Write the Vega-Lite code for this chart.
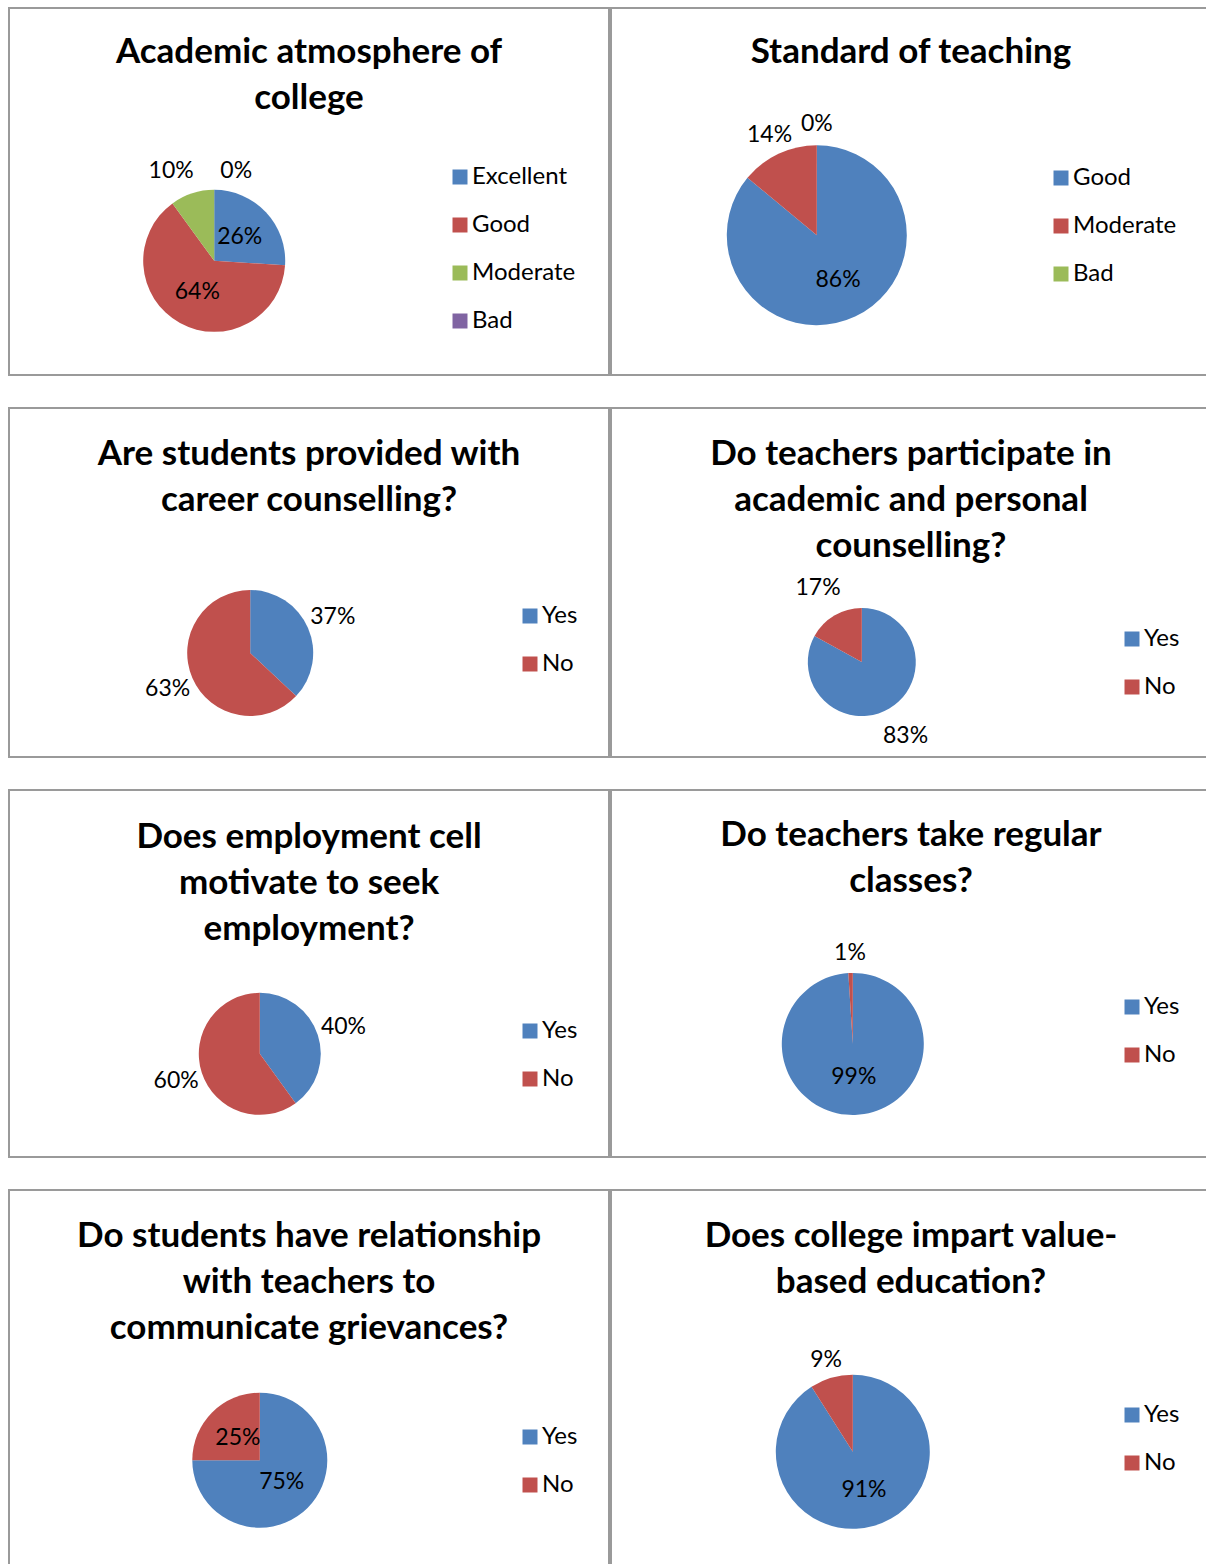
{
  "$schema": "https://vega.github.io/schema/vega-lite/v6.json",
  "background": "white",
  "padding": {"left": 8, "top": 7, "right": 0, "bottom": 0},
  "config": {
    "font": "Lato",
    "view": {"stroke": "#9a9a9a", "strokeWidth": 2},
    "title": {"font": "Lato", "fontSize": 35, "fontWeight": "bold", "color": "black", "anchor": "middle", "frame": "group", "baseline": "top", "lineHeight": 46},
    "legend": {"orient": "none", "title": null, "symbolType": "square", "symbolSize": 225, "symbolStrokeWidth": 0, "labelFont": "Lato", "labelFontSize": 24, "labelColor": "black", "labelOffset": 0, "rowPadding": 24, "symbolOpacity": 1},
    "text": {"font": "Lato", "fontSize": 23, "color": "black"},
    "arc": {"stroke": null}
  },
  "vconcat": [
    {
      "hconcat": [
        {
          "width": 600, "height": 367,
          "title": {"text": ["Academic atmosphere of", "college"], "offset": -108},
          "data": {"values": [
            {"cat": "Excellent", "value": 26, "label": "26%", "o": 1, "pos": "in"},
            {"cat": "Good", "value": 64, "label": "64%", "o": 2, "pos": "in"},
            {"cat": "Moderate", "value": 10, "label": "10%", "o": 3, "pos": "outL"},
            {"cat": "Bad", "value": 0, "label": "0%", "o": 4, "pos": "outR"}
          ]},
          "encoding": {
            "theta": {"field": "value", "type": "quantitative", "stack": true},
            "order": {"field": "o", "type": "quantitative"},
            "x": {"datum": 0.342, "type": "quantitative", "scale": {"domain": [0, 1]}, "axis": null},
            "y": {"datum": 0.689, "type": "quantitative", "scale": {"domain": [0, 1], "reverse": true}, "axis": null}
          },
          "layer": [
            {"mark": {"type": "arc", "outerRadius": 71},
             "encoding": {"color": {"field": "cat", "type": "nominal", "sort": ["Excellent", "Good", "Moderate", "Bad"], "scale": {"domain": ["Excellent", "Good", "Moderate", "Bad"], "range": ["#4F81BD", "#C0504D", "#9BBB59", "#8064A2"]}, "legend": {"legendX": 439, "legendY": 157}}}},
            {"mark": {"type": "text"},
             "encoding": {"text": {"condition": {"test": "datum.pos === 'in'", "field": "label"}, "value": ""}, "radius": {"value": 35}}},
            {"mark": {"type": "text", "dx": -14},
             "encoding": {"text": {"condition": {"test": "datum.pos === 'outL'", "field": "label"}, "value": ""}, "radius": {"value": 94}}},
            {"mark": {"type": "text", "dx": 22},
             "encoding": {"text": {"condition": {"test": "datum.pos === 'outR'", "field": "label"}, "value": ""}, "radius": {"value": 90}}}
          ]
        },
        {
          "width": 600, "height": 367,
          "title": {"text": ["Standard of teaching"], "offset": -62},
          "data": {"values": [
            {"cat": "Good", "value": 86, "label": "86%", "o": 1, "pos": "in"},
            {"cat": "Moderate", "value": 14, "label": "14%", "o": 2, "pos": "out"},
            {"cat": "Bad", "value": 0, "label": "0%", "o": 3, "pos": "out"}
          ]},
          "encoding": {
            "theta": {"field": "value", "type": "quantitative", "stack": true},
            "order": {"field": "o", "type": "quantitative"},
            "x": {"datum": 0.343, "type": "quantitative", "scale": {"domain": [0, 1]}, "axis": null},
            "y": {"datum": 0.619, "type": "quantitative", "scale": {"domain": [0, 1], "reverse": true}, "axis": null}
          },
          "layer": [
            {"mark": {"type": "arc", "outerRadius": 90},
             "encoding": {"color": {"field": "cat", "type": "nominal", "sort": ["Good", "Moderate", "Bad"], "scale": {"domain": ["Good", "Moderate", "Bad"], "range": ["#4F81BD", "#C0504D", "#9BBB59"]}, "legend": {"legendX": 438, "legendY": 158}}}},
            {"mark": {"type": "text"},
             "encoding": {"text": {"condition": {"test": "datum.pos === 'in'", "field": "label"}, "value": ""}, "radius": {"value": 50}}},
            {"mark": {"type": "text"},
             "encoding": {"text": {"condition": {"test": "datum.pos === 'out'", "field": "label"}, "value": ""}, "radius": {"value": 111}}}
          ]
        }
      ],
      "spacing": 0,
      "resolve": {"scale": {"color": "independent", "x": "independent", "y": "independent", "theta": "independent"}, "legend": {"color": "independent"}}
    },
    {
      "hconcat": [
        {
          "width": 600, "height": 349,
          "title": {"text": ["Are students provided with", "career counselling?"], "offset": -110},
          "data": {"values": [
            {"cat": "Yes", "value": 37, "label": "37%", "o": 1, "pos": "out"},
            {"cat": "No", "value": 63, "label": "63%", "o": 2, "pos": "out"}
          ]},
          "encoding": {
            "theta": {"field": "value", "type": "quantitative", "stack": true},
            "order": {"field": "o", "type": "quantitative"},
            "x": {"datum": 0.402, "type": "quantitative", "scale": {"domain": [0, 1]}, "axis": null},
            "y": {"datum": 0.702, "type": "quantitative", "scale": {"domain": [0, 1], "reverse": true}, "axis": null}
          },
          "layer": [
            {"mark": {"type": "arc", "outerRadius": 63},
             "encoding": {"color": {"field": "cat", "type": "nominal", "sort": ["Yes", "No"], "scale": {"domain": ["Yes", "No"], "range": ["#4F81BD", "#C0504D"]}, "legend": {"legendX": 509, "legendY": 196}}}},
            {"mark": {"type": "text"},
             "encoding": {"text": {"field": "label"}, "radius": {"value": 90}}}
          ]
        },
        {
          "width": 600, "height": 349,
          "title": {"text": ["Do teachers participate in", "academic and personal", "counselling?"], "offset": -156},
          "data": {"values": [
            {"cat": "Yes", "value": 83, "label": "83%", "o": 1, "pos": "out"},
            {"cat": "No", "value": 17, "label": "17%", "o": 2, "pos": "out"}
          ]},
          "encoding": {
            "theta": {"field": "value", "type": "quantitative", "stack": true},
            "order": {"field": "o", "type": "quantitative"},
            "x": {"datum": 0.418, "type": "quantitative", "scale": {"domain": [0, 1]}, "axis": null},
            "y": {"datum": 0.728, "type": "quantitative", "scale": {"domain": [0, 1], "reverse": true}, "axis": null}
          },
          "layer": [
            {"mark": {"type": "arc", "outerRadius": 54},
             "encoding": {"color": {"field": "cat", "type": "nominal", "sort": ["Yes", "No"], "scale": {"domain": ["Yes", "No"], "range": ["#4F81BD", "#C0504D"]}, "legend": {"legendX": 509, "legendY": 219}}}},
            {"mark": {"type": "text"},
             "encoding": {"text": {"field": "label"}, "radius": {"value": 86}}}
          ]
        }
      ],
      "spacing": 0,
      "resolve": {"scale": {"color": "independent", "x": "independent", "y": "independent", "theta": "independent"}, "legend": {"color": "independent"}}
    },
    {
      "hconcat": [
        {
          "width": 600, "height": 367,
          "title": {"text": ["Does employment cell", "motivate to seek", "employment?"], "offset": -157},
          "data": {"values": [
            {"cat": "Yes", "value": 40, "label": "40%", "o": 1, "pos": "out"},
            {"cat": "No", "value": 60, "label": "60%", "o": 2, "pos": "out"}
          ]},
          "encoding": {
            "theta": {"field": "value", "type": "quantitative", "stack": true},
            "order": {"field": "o", "type": "quantitative"},
            "x": {"datum": 0.418, "type": "quantitative", "scale": {"domain": [0, 1]}, "axis": null},
            "y": {"datum": 0.719, "type": "quantitative", "scale": {"domain": [0, 1], "reverse": true}, "axis": null}
          },
          "layer": [
            {"mark": {"type": "arc", "outerRadius": 61},
             "encoding": {"color": {"field": "cat", "type": "nominal", "sort": ["Yes", "No"], "scale": {"domain": ["Yes", "No"], "range": ["#4F81BD", "#C0504D"]}, "legend": {"legendX": 509, "legendY": 229}}}},
            {"mark": {"type": "text"},
             "encoding": {"text": {"field": "label"}, "radius": {"value": 88}}}
          ]
        },
        {
          "width": 600, "height": 367,
          "title": {"text": ["Do teachers take regular", "classes?"], "offset": -109},
          "data": {"values": [
            {"cat": "Yes", "value": 99, "label": "99%", "o": 1, "pos": "in"},
            {"cat": "No", "value": 1, "label": "1%", "o": 2, "pos": "out"}
          ]},
          "encoding": {
            "theta": {"field": "value", "type": "quantitative", "stack": true},
            "order": {"field": "o", "type": "quantitative"},
            "x": {"datum": 0.403, "type": "quantitative", "scale": {"domain": [0, 1]}, "axis": null},
            "y": {"datum": 0.692, "type": "quantitative", "scale": {"domain": [0, 1], "reverse": true}, "axis": null}
          },
          "layer": [
            {"mark": {"type": "arc", "outerRadius": 71},
             "encoding": {"color": {"field": "cat", "type": "nominal", "sort": ["Yes", "No"], "scale": {"domain": ["Yes", "No"], "range": ["#4F81BD", "#C0504D"]}, "legend": {"legendX": 509, "legendY": 205}}}},
            {"mark": {"type": "text"},
             "encoding": {"text": {"condition": {"test": "datum.pos === 'in'", "field": "label"}, "value": ""}, "radius": {"value": 33}}},
            {"mark": {"type": "text"},
             "encoding": {"text": {"condition": {"test": "datum.pos === 'out'", "field": "label"}, "value": ""}, "radius": {"value": 91}}}
          ]
        }
      ],
      "spacing": 0,
      "resolve": {"scale": {"color": "independent", "x": "independent", "y": "independent", "theta": "independent"}, "legend": {"color": "independent"}}
    },
    {
      "hconcat": [
        {
          "width": 600, "height": 380,
          "title": {"text": ["Do students have relationship", "with teachers to", "communicate grievances?"], "offset": -156},
          "data": {"values": [
            {"cat": "Yes", "value": 75, "label": "75%", "o": 1, "pos": "in"},
            {"cat": "No", "value": 25, "label": "25%", "o": 2, "pos": "in"}
          ]},
          "encoding": {
            "theta": {"field": "value", "type": "quantitative", "stack": true},
            "order": {"field": "o", "type": "quantitative"},
            "x": {"datum": 0.418, "type": "quantitative", "scale": {"domain": [0, 1]}, "axis": null},
            "y": {"datum": 0.711, "type": "quantitative", "scale": {"domain": [0, 1], "reverse": true}, "axis": null}
          },
          "layer": [
            {"mark": {"type": "arc", "outerRadius": 67.5},
             "encoding": {"color": {"field": "cat", "type": "nominal", "sort": ["Yes", "No"], "scale": {"domain": ["Yes", "No"], "range": ["#4F81BD", "#C0504D"]}, "legend": {"legendX": 509, "legendY": 235}}}},
            {"mark": {"type": "text"},
             "encoding": {"text": {"field": "label"}, "radius": {"value": 31}}}
          ]
        },
        {
          "width": 600, "height": 380,
          "title": {"text": ["Does college impart value-", "based education?"], "offset": -110},
          "data": {"values": [
            {"cat": "Yes", "value": 91, "label": "91%", "o": 1, "pos": "in"},
            {"cat": "No", "value": 9, "label": "9%", "o": 2, "pos": "out"}
          ]},
          "encoding": {
            "theta": {"field": "value", "type": "quantitative", "stack": true},
            "order": {"field": "o", "type": "quantitative"},
            "x": {"datum": 0.403, "type": "quantitative", "scale": {"domain": [0, 1]}, "axis": null},
            "y": {"datum": 0.689, "type": "quantitative", "scale": {"domain": [0, 1], "reverse": true}, "axis": null}
          },
          "layer": [
            {"mark": {"type": "arc", "outerRadius": 77},
             "encoding": {"color": {"field": "cat", "type": "nominal", "sort": ["Yes", "No"], "scale": {"domain": ["Yes", "No"], "range": ["#4F81BD", "#C0504D"]}, "legend": {"legendX": 509, "legendY": 213}}}},
            {"mark": {"type": "text"},
             "encoding": {"text": {"condition": {"test": "datum.pos === 'in'", "field": "label"}, "value": ""}, "radius": {"value": 40}}},
            {"mark": {"type": "text"},
             "encoding": {"text": {"condition": {"test": "datum.pos === 'out'", "field": "label"}, "value": ""}, "radius": {"value": 96}}}
          ]
        }
      ],
      "spacing": 0,
      "resolve": {"scale": {"color": "independent", "x": "independent", "y": "independent", "theta": "independent"}, "legend": {"color": "independent"}}
    }
  ],
  "spacing": 31,
  "resolve": {"scale": {"color": "independent", "x": "independent", "y": "independent", "theta": "independent"}, "legend": {"color": "independent"}}
}
